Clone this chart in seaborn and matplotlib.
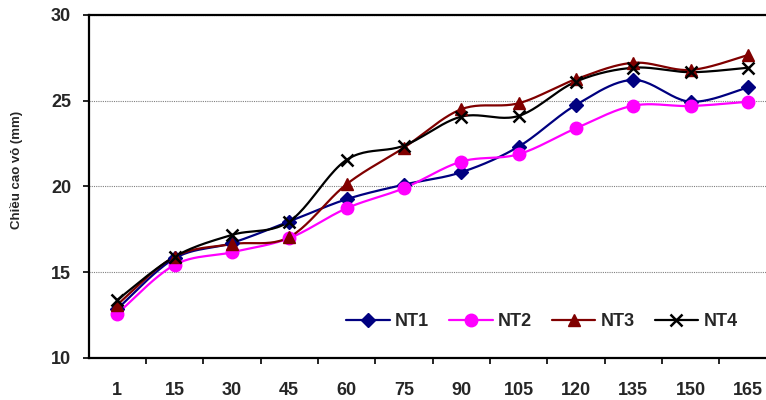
import numpy as np
import pandas as pd
import matplotlib
matplotlib.use("Agg")
import matplotlib.pyplot as plt
import seaborn as sns
from matplotlib.lines import Line2D

# ---- data ----
days = ["1", "15", "30", "45", "60", "75", "90", "105", "120", "135", "150", "165"]
nt1 = [12.85, 15.8, 16.7, 17.95, 19.25, 20.1, 20.82, 22.31, 24.74, 26.2, 24.93, 25.77]
nt2 = [12.57, 15.42, 16.16, 16.98, 18.72, 19.89, 21.44, 21.87, 23.38, 24.7, 24.68, 24.93]
nt3 = [13.1, 15.9, 16.63, 17.04, 20.12, 22.25, 24.49, 24.84, 26.24, 27.2, 26.78, 27.65]
nt4 = [13.38, 15.9, 17.17, 17.95, 21.54, 22.37, 24.06, 24.1, 26.1, 26.91, 26.65, 26.91]
series_names = ["NT1", "NT2", "NT3", "NT4"]
ylabel = "Chiều cao vỏ (mm)"

series_vals = [nt1, nt2, nt3, nt4]
colors = ["#000080", "#FF00FF", "#800000", "#000000"]
markers = ["D", "o", "^", "x"]
msizes = [7, 9, 9, 8]

sns.set_theme(style="white")
plt.rcParams["font.family"] = ["Liberation Sans", "DejaVu Sans"]
plt.rcParams["font.weight"] = "bold"


def smooth(y, n=24):
    """Excel-like smoothed line (Catmull-Rom Bezier) between data points."""
    x = np.arange(len(y), dtype=float)
    pts = np.column_stack([x, np.asarray(y, dtype=float)])
    out = []
    m = len(pts)
    t = np.linspace(0, 1, n, endpoint=False)[:, None]
    for i in range(m - 1):
        p0 = pts[i - 1] if i > 0 else pts[i]
        p1 = pts[i]
        p2 = pts[i + 1]
        p3 = pts[i + 2] if i + 2 < m else pts[i + 1]
        c1 = p1 + (p2 - p0) / 6.0
        c2 = p2 - (p3 - p1) / 6.0
        seg = ((1 - t) ** 3) * p1 + 3 * ((1 - t) ** 2) * t * c1 + 3 * (1 - t) * t ** 2 * c2 + t ** 3 * p2
        out.append(seg)
    out.append(pts[-1:])
    arr = np.vstack(out)
    return arr[:, 0], arr[:, 1]


fig = plt.figure(figsize=(7.66, 4.0), dpi=100)
ax = fig.add_axes([88.5 / 766, 42 / 400, 688 / 766, 343.3 / 400])

pos = np.arange(len(days))
handles = []
for name, vals, c, mk, ms in zip(series_names, series_vals, colors, markers, msizes):
    sx, sy = smooth(vals)
    sns.lineplot(x=sx, y=sy, sort=False, color=c, linewidth=1.6, ax=ax, estimator=None)
    if mk == "x":
        ax.plot(pos, vals, linestyle="none", marker=mk, color=c, markersize=ms,
                markeredgewidth=1.8, zorder=5)
    else:
        ax.plot(pos, vals, linestyle="none", marker=mk, color=c, markersize=ms,
                markeredgecolor=c, zorder=5)
    handles.append(Line2D([], [], color=c, linewidth=1.6, marker=mk, markersize=ms,
                          markeredgewidth=1.8 if mk == "x" else 1.0))

ax.set_xlim(-0.5, len(days) - 0.5)
ax.set_ylim(10, 30)
ax.set_yticks([10, 15, 20, 25, 30])
ax.set_yticklabels(["10", "15", "20", "25", "30"], fontsize=13, fontweight="bold")
ax.set_xticks(pos)
ax.set_xticklabels(days, fontsize=13, fontweight="bold")
ax.set_xticks(np.arange(0.5, len(days) - 0.5, 1.0), minor=True)

ax.tick_params(axis="x", which="major", length=0, pad=17)
ax.tick_params(axis="x", which="minor", direction="out", length=4.5, width=1.2, color="black", bottom=True)
ax.tick_params(axis="y", which="major", direction="out", length=4.5, width=1.2, color="black", pad=8, left=True)

ax.yaxis.grid(True, linestyle=(0, (1, 1)), color="#808080", linewidth=0.8)
ax.xaxis.grid(False)
ax.set_axisbelow(True)

for side in ["top", "left", "bottom"]:
    ax.spines[side].set_visible(True)
    ax.spines[side].set_color("black")
    ax.spines[side].set_linewidth(1.6)
ax.spines["right"].set_visible(False)

ax.set_xlabel("")
ax.set_ylabel("")
fig.text(17 / 766, 1 - 170 / 400, ylabel, rotation=90, ha="center", va="center",
         fontsize=9.5, fontweight="bold")

ax.legend(handles, series_names, loc="center", bbox_to_anchor=(542 / 766, 1 - 322 / 400),
          bbox_transform=fig.transFigure, ncol=4, frameon=False, fontsize=13,
          handlelength=2.4, handletextpad=0.3, columnspacing=1.1,
          prop={"weight": "bold", "size": 13})

fig.savefig("out.png", dpi=100)
